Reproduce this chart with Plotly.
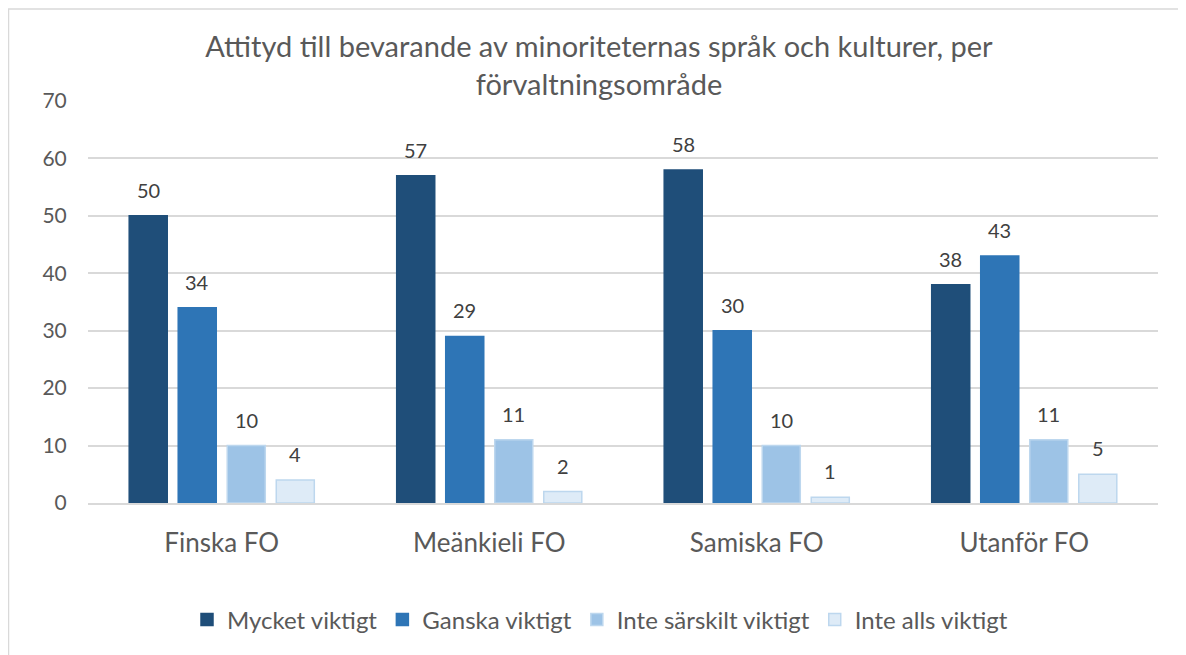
import plotly.graph_objects as go

categories = ["Finska FO", "Meänkieli FO", "Samiska FO", "Utanför FO"]
series_names = ["Mycket viktigt", "Ganska viktigt", "Inte särskilt viktigt", "Inte alls viktigt"]
mycket = [50, 57, 58, 38]
ganska = [34, 29, 30, 43]
inte_sarskilt = [10, 11, 10, 11]
inte_alls = [4, 2, 1, 5]
y_ticks = [0, 10, 20, 30, 40, 50, 60, 70]

values = [mycket, ganska, inte_sarskilt, inte_alls]
colors = ["#1F4E79", "#2E75B6", "#9DC3E6", "#DEEBF7"]
borders = ["#1F4E79", "#2E75B6", "#BDD7EE", "#BDD7EE"]

FONT = "Lato"
GRAY = "#595959"

# page body has an 8px margin; figure is placed at (8, 8) and overflows right/bottom
OFF = 8
W, H = 1186, 655
PL, PR, PT, PB = 88, 1158, 101, 503  # target plot area in page pixels
l, r, t, b = PL - OFF, (W + OFF) - PR, PT - OFF, (H + OFF) - PB
pw, ph = PR - PL, PB - PT

fig = go.Figure()
for name, vals, c, bc in zip(series_names, values, colors, borders):
    fig.add_trace(go.Bar(
        x=categories, y=vals, name=name,
        marker=dict(color=c, line=dict(color=bc, width=1.5)),
        hoverinfo="x+y+name",
    ))

# data labels above bars
slot = 49
offsets = [-1.5 * slot, -0.5 * slot, 0.5 * slot, 1.5 * slot]
for vals, dx in zip(values, offsets):
    for cat, v in zip(categories, vals):
        fig.add_annotation(x=cat, y=v, xref="x", yref="y", text=str(v),
                           showarrow=False, xshift=dx, yshift=26,
                           font=dict(family=FONT, size=20, color="#404040"))

fig.update_layout(
    width=W, height=H,
    margin=dict(l=l, r=r, t=t, b=b, pad=0, autoexpand=False),
    paper_bgcolor="white", plot_bgcolor="white",
    barmode="group", bargap=0.267, bargroupgap=0.224,
    title=dict(
        text="Attityd till bevarande av minoriteternas språk och kulturer, per<br>förvaltningsområde",
        x=(599 - OFF) / W, xanchor="center", y=1 - (57 - OFF) / H, yanchor="top",
        font=dict(family=FONT, size=29, color=GRAY),
    ),
    font=dict(family=FONT, color=GRAY),
    legend=dict(
        orientation="h", x=(600 - PL) / pw, xanchor="center", y=-(620 - PB) / ph, yanchor="middle",
        font=dict(family=FONT, size=24, color=GRAY),
        itemwidth=30, traceorder="normal",
    ),
    showlegend=True,
    xaxis=dict(
        showgrid=False, showline=True, linecolor="#D9D9D9", linewidth=1.5,
        tickfont=dict(family=FONT, size=26, color=GRAY),
        ticks="outside", ticklen=16, tickcolor="rgba(0,0,0,0)",
    ),
    yaxis=dict(
        range=[0, 70], tickvals=y_ticks, showgrid=True, gridcolor="#D9D9D9",
        gridwidth=1.5, zeroline=False, showline=False,
        tickfont=dict(family=FONT, size=21, color=GRAY),
        ticks="outside", ticklen=16, tickcolor="rgba(0,0,0,0)",
    ),
)

# outer chart border (left and top visible)
x_left = (8.5 - PL) / pw
x_right = (W + OFF + 10 - PL) / pw
y_top = (PB - 9) / ph
y_bot = -(H + OFF + 10 - PB) / ph
fig.add_shape(type="rect", xref="paper", yref="paper",
              x0=x_left, x1=x_right, y0=y_bot, y1=y_top,
              line=dict(color="#D9D9D9", width=1.5), layer="below")

fig.write_html("out.html")
